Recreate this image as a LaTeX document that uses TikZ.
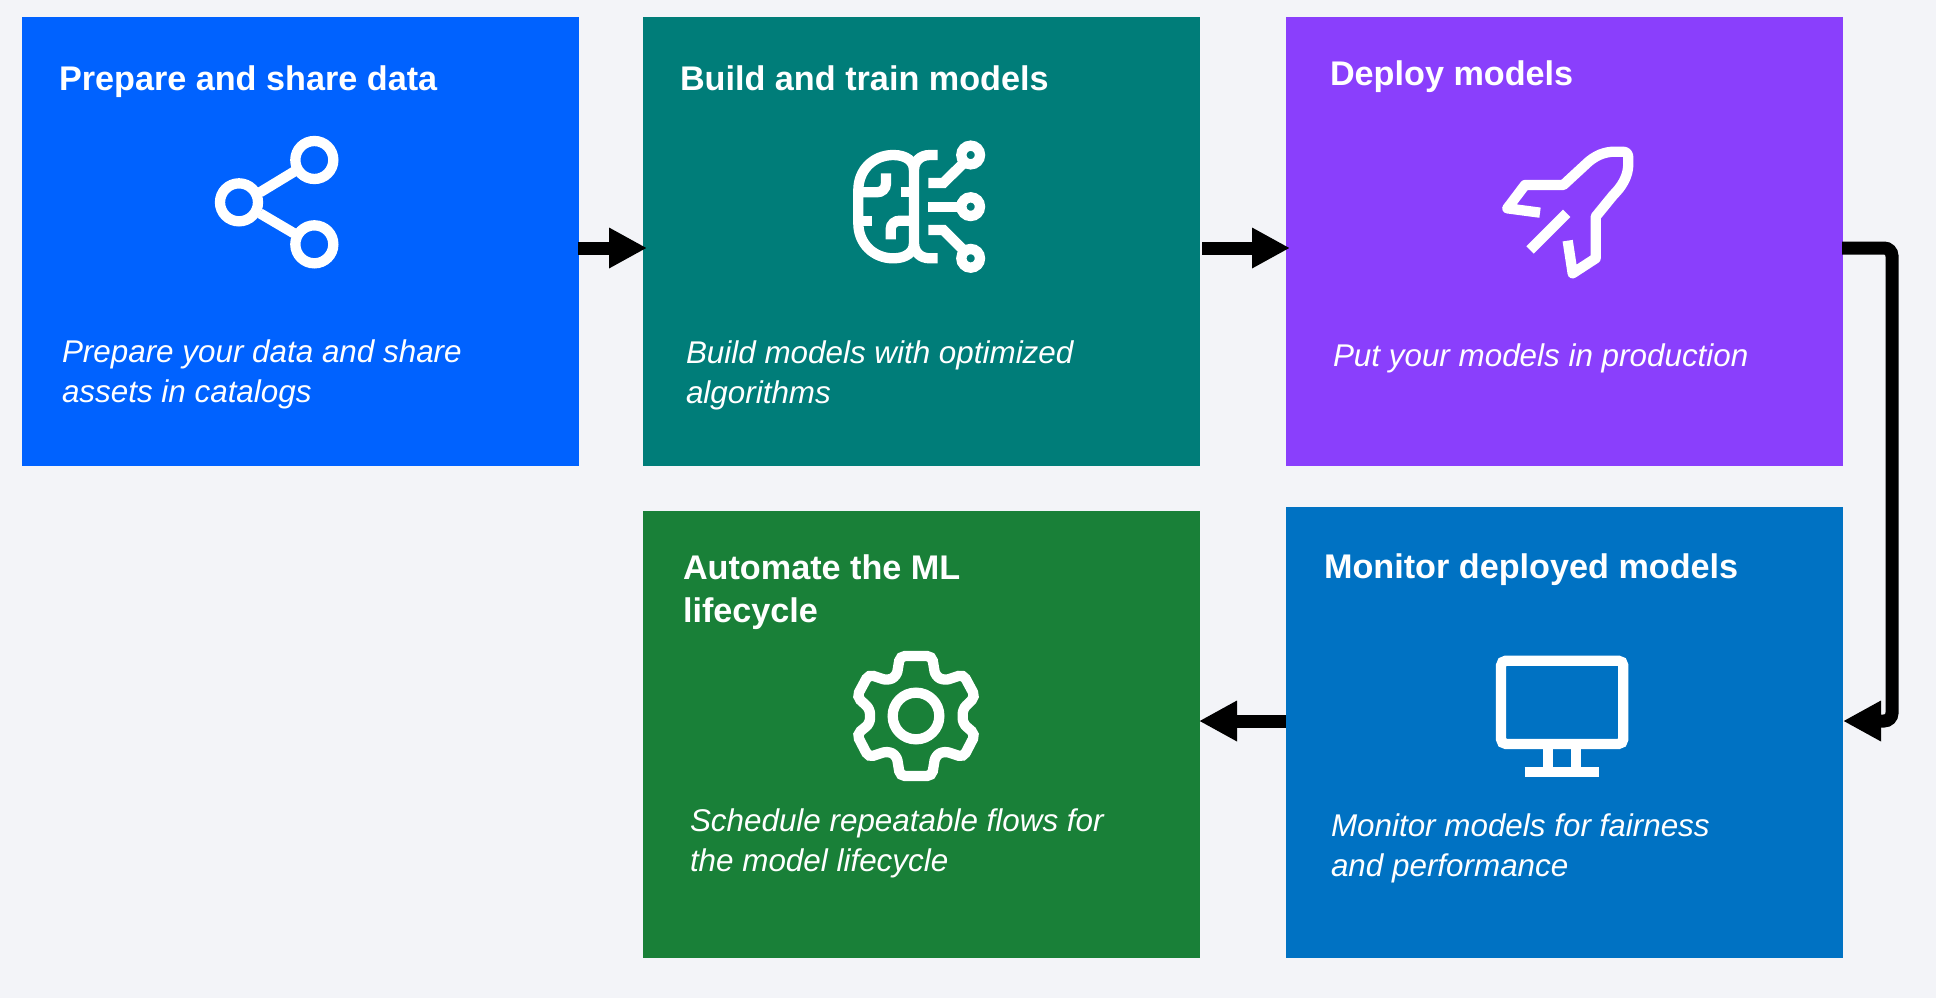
\documentclass[tikz,border=0pt]{standalone}
\usepackage{fontspec}
\setmainfont{Liberation Sans}
\usetikzlibrary{arrows.meta}
\definecolor{pagebg}{HTML}{F3F4F8}
\definecolor{cblue}{HTML}{0062FF}
\definecolor{cteal}{HTML}{007D79}
\definecolor{cpurple}{HTML}{8A3FFC}
\definecolor{cgreen}{HTML}{198038}
\definecolor{cmon}{HTML}{0072C3}
\tikzset{
  card/.style={anchor=north west,inner sep=0pt,outer sep=0pt,minimum width=557pt,text=white},
  title/.style={anchor=base west,inner sep=0pt,outer sep=0pt,text=white,align=left,font=\fontsize{34.2}{43}\selectfont\bfseries},
  body/.style={anchor=base west,inner sep=0pt,outer sep=0pt,text=white,align=left,font=\fontsize{31.4}{40}\selectfont\itshape},
  flow/.style={draw=black,line width=13pt,-{Triangle[length=38pt,width=38pt]},rounded corners=8pt},
  icon/.style={draw=white,line width=10.3pt,line cap=butt,line join=miter},
  iconbox/.style={x=.33333pt,y=-.33333pt}
}
\begin{document}
\begin{tikzpicture}[x=1pt,y=-1pt]
\useasboundingbox (0,0) rectangle (1936,998);
\fill[pagebg] (0,0) rectangle (1936,998);
% cards
\node[card,fill=cblue,minimum height=449pt] (prep) at (22,17) {};
\node[card,fill=cteal,minimum height=449pt] (build) at (643,17) {};
\node[card,fill=cpurple,minimum height=449pt] (deploy) at (1286,17) {};
\node[card,fill=cgreen,minimum height=447pt] (auto) at (643,511) {};
\node[card,fill=cmon,minimum height=451pt] (monitor) at (1286,507) {};
% titles
\node[title] (t1) at (59,90) {Prepare and share data};
\node[title] (t2) at (680,90) {Build and train models};
\node[title] (t3) at (1330,85) {Deploy models};
\node[title] (t4) at (683,622) {Automate the ML\\lifecycle};
\node[title] (t5) at (1324,578) {Monitor deployed models};
% bodies
\node[body] (b1) at (62,402) {Prepare your data and share\\assets in catalogs};
\node[body] (b2) at (686,403) {Build models with optimized\\algorithms};
\node[body] (b3) at (1333,366) {Put your models in production};
\node[body] (b4) at (690,871) {Schedule repeatable flows for\\the model lifecycle};
\node[body] (b5) at (1331,876) {Monitor models for fairness\\and performance};
% connectors
\draw[flow] ([xshift=-1pt,yshift=-6.5pt]prep.east) -- ([xshift=4pt,yshift=-6.5pt]build.west);
\draw[flow] ([xshift=2pt,yshift=-6.5pt]build.east) -- ([xshift=4pt,yshift=-6.5pt]deploy.west);
\coordinate (bendtop) at ([xshift=49pt,yshift=-6.5pt]deploy.east);
\coordinate (bendbot) at ([xshift=49pt,yshift=11.5pt]monitor.east);
\draw[flow] ([xshift=-1pt,yshift=-6.5pt]deploy.east) -- (bendtop) -- (bendbot) -- ([yshift=11.5pt]monitor.east);
\draw[flow] ([yshift=11.5pt]monitor.west) -- ([xshift=-1pt,yshift=11.5pt]monitor.west -| auto.east);
% share icon
\begin{scope}[shift={(180,110)},iconbox]
\draw[icon] (403,150) circle[radius=57];
\draw[icon] (177,277) circle[radius=57];
\draw[icon] (403,403) circle[radius=57];
\draw[icon] (240,247) -- (347,182);
\draw[icon] (240,310) -- (342,370);
\end{scope}
% brain icon
\begin{scope}[shift={(830,120)},iconbox]
\draw[icon] (323,105) -- (300,105) .. controls (270,105) and (252,125) .. (252,150) -- (252,370) .. controls (252,395) and (270,415) .. (300,415) -- (323,415);
\draw[icon] (252,150) .. controls (252,125) and (230,105) .. (190,105) .. controls (130,105) and (85,150) .. (85,210) -- (85,310) .. controls (85,370) and (130,415) .. (190,415) .. controls (230,415) and (252,395) .. (252,370);
\draw[icon] (168,160) -- (168,190) .. controls (168,207) and (155,217) .. (140,217) -- (85,217);
\draw[icon] (212,217) -- (252,217);
\draw[icon] (85,302) -- (125,302);
\draw[icon] (182,358) -- (182,328) .. controls (182,312) and (195,302) .. (210,302) -- (252,302);
\draw[icon] (295,189) -- (340,189) -- (405,125);
\draw[icon] (295,260) -- (400,260);
\draw[icon] (295,330) -- (340,330) -- (405,395);
\draw[icon] (422,105) circle[radius=28];
\draw[icon] (422,260) circle[radius=28];
\draw[icon] (422,415) circle[radius=28];
\end{scope}
% rocket icon
\begin{scope}[shift={(1480,130)},iconbox]
\draw[icon,line join=round] (180,248) -- (82,235) -- (135,165) -- (250,165) -- (315,105) .. controls (345,75) and (375,65) .. (405,65) -- (428,65) .. controls (440,65) and (445,72) .. (445,85) -- (445,100) .. controls (445,140) and (425,170) .. (400,195) -- (347,260) -- (347,385) -- (278,430) -- (263,332);
\draw[icon] (260,250) -- (150,360);
\end{scope}
% gear icon
\begin{scope}[shift={(830,640)},iconbox]
\draw[icon] (258,228) circle[radius=70];
\draw[icon,rounded corners=5pt] (210,48) -- (306,48) -- (316,108) -- (343,122) -- (400,103) -- (436,170) -- (398,207) -- (398,250) -- (436,283) -- (400,352) -- (343,333) -- (316,347) -- (306,408) -- (210,408) -- (200,347) -- (173,333) -- (116,352) -- (80,283) -- (120,250) -- (120,207) -- (80,170) -- (116,103) -- (173,122) -- (200,108) -- cycle;
\end{scope}
% monitor icon
\begin{scope}[shift={(1480,640)},iconbox]
\draw[icon,rounded corners=5pt] (63,62) rectangle (430,312);
\draw[icon] (204,312) -- (204,395);
\draw[icon] (288,312) -- (288,395);
\draw[icon] (134,395) -- (358,395);
\end{scope}
\end{tikzpicture}
\end{document}
